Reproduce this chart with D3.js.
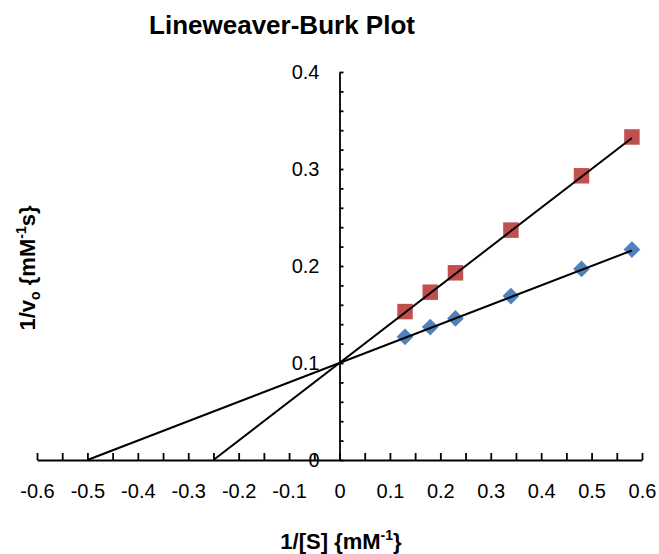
<!doctype html>
<html>
<head>
<meta charset="utf-8">
<style>
  body { margin: 0; background: #fff; }
  text { font-family: "Liberation Sans", Arial, sans-serif; fill: #000; }
</style>
<script src="https://d3js.org/d3.v7.min.js"></script>
</head>
<body>
<svg width="659" height="554"></svg>
<script>
// data
var xVals = [0.13, 0.18, 0.23, 0.34, 0.48, 0.58];
var blueY = [0.127, 0.137, 0.146, 0.169, 0.197, 0.217];
var redY  = [0.153, 0.173, 0.193, 0.237, 0.293, 0.333];
var blueFit = [[-0.5, 0], [0.58, 0.216]];
var redFit  = [[-0.25, 0], [0.58, 0.332]];
var xLabels = [-0.6, -0.5, -0.4, -0.3, -0.2, -0.1, 0, 0.1, 0.2, 0.3, 0.4, 0.5, 0.6];
var yLabels = [0, 0.1, 0.2, 0.3, 0.4];

var svg = d3.select("svg");

var x = d3.scaleLinear().domain([-0.6, 0.6]).range([37, 642]);
var y = d3.scaleLinear().domain([0, 0.4]).range([460, 72]);

var fmt = function(d) { return d === 0 ? "0" : d.toFixed(1); };

// x axis: minor ticks every 0.05 pointing up
var xMinor = d3.range(-0.6, 0.6001, 0.05).map(function(d) { return Math.round(d * 100) / 100; });
var gx = svg.append("g")
    .attr("transform", "translate(0," + y(0) + ")")
    .call(d3.axisBottom(x).tickValues(xMinor).tickSizeInner(-7).tickSizeOuter(0).tickFormat(""));
gx.selectAll("path, line").attr("stroke", "#000").attr("stroke-width", 1.8);

svg.append("g")
    .attr("transform", "translate(0," + y(0) + ")")
    .call(d3.axisBottom(x).tickValues(xLabels).tickSize(0).tickPadding(24).tickFormat(fmt))
    .call(function(g) { g.select(".domain").remove(); })
    .selectAll("text").attr("font-size", "20px").attr("font-family", "Liberation Sans, Arial, sans-serif");

// y axis: ticks every 0.02 pointing right
var yMinor = d3.range(0, 0.4001, 0.02).map(function(d) { return Math.round(d * 100) / 100; });
var gy = svg.append("g")
    .attr("transform", "translate(" + x(0) + ",0)")
    .call(d3.axisLeft(y).tickValues(yMinor).tickSizeInner(-4).tickSizeOuter(0).tickFormat(""));
gy.selectAll("path, line").attr("stroke", "#000").attr("stroke-width", 1.8);

svg.append("g")
    .attr("transform", "translate(" + x(0) + ",0)")
    .call(d3.axisLeft(y).tickValues(yLabels).tickSize(0).tickPadding(20).tickFormat(fmt))
    .call(function(g) { g.select(".domain").remove(); })
    .selectAll("text").attr("font-size", "20px").attr("font-family", "Liberation Sans, Arial, sans-serif");

// markers
var blue = xVals.map(function(d, i) { return [d, blueY[i]]; });
var red = xVals.map(function(d, i) { return [d, redY[i]]; });

svg.append("g").selectAll("path")
    .data(red).enter().append("path")
    .attr("d", d3.symbol().type(d3.symbolSquare).size(240))
    .attr("transform", function(d) { return "translate(" + x(d[0]) + "," + y(d[1]) + ")"; })
    .attr("fill", "#c0504d");

svg.append("g").selectAll("path")
    .data(blue).enter().append("path")
    .attr("d", d3.symbol().type(d3.symbolSquare).size(140))
    .attr("transform", function(d) { return "translate(" + x(d[0]) + "," + y(d[1]) + ") rotate(45)"; })
    .attr("fill", "#4f81bd");

// trend lines
var line = d3.line().x(function(d) { return x(d[0]); }).y(function(d) { return y(d[1]); });
[blueFit, redFit].forEach(function(f) {
  svg.append("path").attr("d", line(f)).attr("fill", "none")
     .attr("stroke", "#000").attr("stroke-width", 2);
});

// titles
svg.append("text").attr("x", 282).attr("y", 34).attr("text-anchor", "middle")
   .attr("font-size", "26px").attr("font-weight", "bold").text("Lineweaver-Burk Plot");

var xt = svg.append("text").attr("x", 341).attr("y", 549).attr("text-anchor", "middle")
   .attr("font-size", "22px").attr("font-weight", "bold");
xt.append("tspan").text("1/[S] {mM");
xt.append("tspan").attr("font-size", "14px").attr("dy", -9).text("-1");
xt.append("tspan").attr("dy", 9).text("}");

var yt = svg.append("text").attr("transform", "translate(35,268) rotate(-90)").attr("text-anchor", "middle")
   .attr("font-size", "22px").attr("font-weight", "bold");
yt.append("tspan").text("1/v");
yt.append("tspan").attr("font-size", "14px").attr("dy", 5).text("o");
yt.append("tspan").attr("dy", -5).text(" {mM");
yt.append("tspan").attr("font-size", "14px").attr("dy", -9).text("-1");
yt.append("tspan").attr("dy", 9).text("s}");
</script>
</body>
</html>
